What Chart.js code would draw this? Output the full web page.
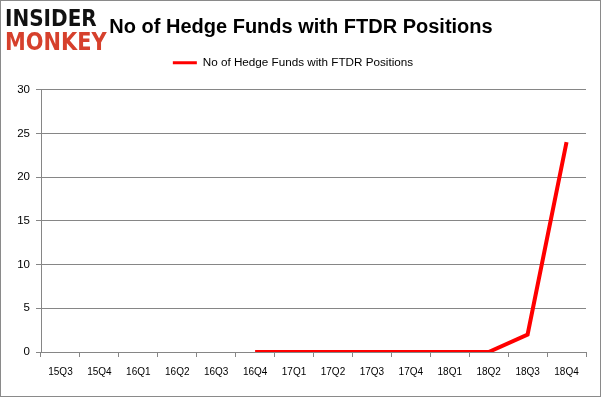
<!DOCTYPE html>
<html>
<head>
<meta charset="utf-8">
<script src="https://cdn.jsdelivr.net/npm/chart.js@4"></script>
<style>
  html, body { margin: 0; padding: 0; background: #fff; }
  #wrap { position: relative; width: 602px; height: 398px; overflow: hidden; }
  #frame { position: absolute; left: 0; top: 0; width: 599px; height: 395px; border: 1px solid #8a8a8a; pointer-events: none; }
  #c { position: absolute; left: 0; top: 0; }
  .logo { position: absolute; left: 5px; font-family: "DejaVu Sans"; font-weight: bold; transform-origin: 0 0; white-space: nowrap; line-height: 1; }
  #logo1 { top: 7px; color: #111; font-size: 23px; transform: scaleX(0.87); }
  #logo2 { top: 30px; color: #d6402c; font-size: 24px; transform: scaleX(0.87); }
  #title { position: absolute; left: 0; width: 602px; top: 16px; text-align: center; font-family: "Liberation Sans"; font-weight: bold; font-size: 20px; line-height: 20px; color: #000; }
</style>
</head>
<body>
<div id="wrap">
  <canvas id="c" width="602" height="398"></canvas>
  <div class="logo" id="logo1">INSIDER</div>
  <div class="logo" id="logo2">MONKEY</div>
  <div id="title">No of Hedge Funds with FTDR Positions</div>
  <div id="frame"></div>
</div>
<script>
const categories = ["15Q3","15Q4","16Q1","16Q2","16Q3","16Q4","17Q1","17Q2","17Q3","17Q4","18Q1","18Q2","18Q3","18Q4"];
const hedgeFunds = [null,null,null,null,null,0,0,0,0,0,0,0,2,24];
const seriesName = "No of Hedge Funds with FTDR Positions";
const yTicks = [0,5,10,15,20,25,30];

const gridColor = "#868686";

const legendMargin = {
  id: "legendMargin",
  beforeInit(chart) {
    const lg = chart.legend;
    if (!lg) return;
    const fit = lg.fit;
    lg.fit = function () { fit.call(this); this.height += 11; };
  }
};

new Chart(document.getElementById("c"), {
  type: "line",
  data: {
    labels: categories,
    datasets: [{
      label: seriesName,
      data: hedgeFunds,
      borderColor: "#ff0000",
      backgroundColor: "#ff0000",
      borderWidth: 4,
      pointRadius: 0,
      pointHoverRadius: 0,
      tension: 0,
      fill: false,
      borderCapStyle: "butt",
      borderJoinStyle: "miter"
    }]
  },
  plugins: [legendMargin],
  options: {
    responsive: false,
    animation: false,
    events: [],
    layout: { padding: { left: 0, right: 16, top: 37, bottom: 0 } },
    plugins: {
      tooltip: { enabled: false },
      title: { display: false },
      legend: {
        display: true,
        position: "top",
        labels: {
          boxWidth: 24,
          boxHeight: 3,
          padding: 20,
          color: "#000",
          font: { family: "Liberation Sans", size: 11.7 },
          generateLabels: (chart) => [{
            text: seriesName,
            fillStyle: "#ff0000",
            strokeStyle: "#ff0000",
            lineWidth: 0,
            hidden: false,
            datasetIndex: 0
          }]
        }
      }
    },
    scales: {
      x: {
        offset: true,
        grid: { display: true, drawOnChartArea: false, drawTicks: true, tickLength: 5, color: gridColor, offset: true },
        border: { display: true, color: gridColor, width: 1 },
        ticks: { color: "#000", font: { family: "Liberation Sans", size: 10 }, padding: 9, maxRotation: 0, autoSkip: false },
        afterFit: (s) => { s.height = 46; }
      },
      y: {
        min: 0,
        max: 30,
        afterBuildTicks: (s) => { s.ticks = yTicks.map(v => ({ value: v })); },
        grid: { color: gridColor, tickLength: 5, drawTicks: true },
        border: { display: true, color: gridColor, width: 1 },
        ticks: { color: "#000", font: { family: "Liberation Sans", size: 11.5 }, padding: 6 },
        afterFit: (s) => { s.width = 41; }
      }
    }
  }
});
</script>
</body>
</html>
